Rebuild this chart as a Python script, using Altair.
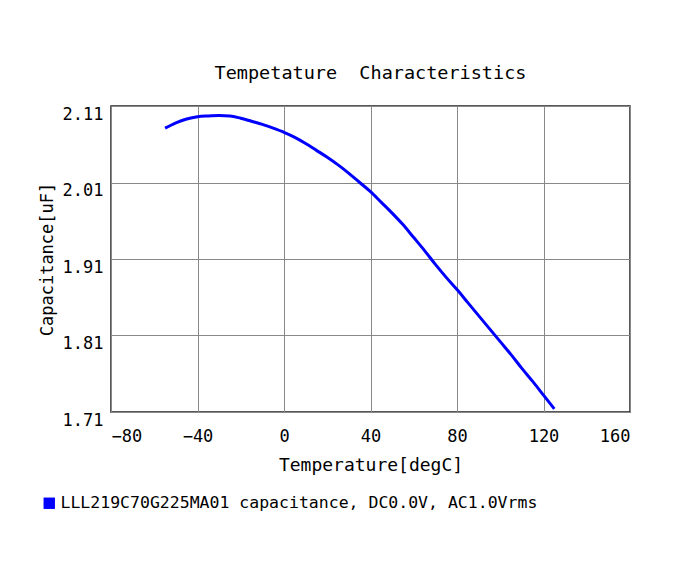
import altair as alt
import pandas as pd

temps = [-55, -50, -45, -40, -35, -30, -25, -20, -15, -10, -5, 0, 5, 10, 15, 20,
         25, 30, 35, 40, 45, 50, 55, 60, 65, 70, 75, 80, 85, 90, 95, 100, 105,
         110, 115, 120, 125]
caps = [2.081, 2.088, 2.093, 2.096, 2.097, 2.0975, 2.097, 2.094, 2.090, 2.086,
        2.081, 2.0755, 2.069, 2.061, 2.052, 2.043, 2.033, 2.022, 2.010, 1.998,
        1.984, 1.970, 1.955, 1.938, 1.921, 1.903, 1.886, 1.870, 1.853, 1.836,
        1.819, 1.802, 1.785, 1.767, 1.750, 1.732, 1.714]
series_name = "LLL219C70G225MA01 capacitance, DC0.0V, AC1.0Vrms"
x_ticks = [-80, -40, 0, 40, 80, 120, 160]
y_ticks = [1.71, 1.81, 1.91, 2.01, 2.11]

df = pd.DataFrame({"t": temps, "c": caps, "s": series_name})

FONT = "DejaVu Sans Mono"

chart = alt.Chart(df).mark_line(strokeWidth=3, clip=True, interpolate="monotone").encode(
    x=alt.X("t:Q", scale=alt.Scale(domain=[-80, 160], nice=False),
            axis=alt.Axis(values=x_ticks, title="Temperature[degC]", format="d",
                          tickSize=0, labelPadding=16, titlePadding=12,
                          labelFont=FONT, titleFont=FONT, titleFontWeight="normal",
                          labelColor="#000", titleColor="#000",
                          gridColor="#888", domain=False,
                          labelFontSize=17, titleFontSize=18)),
    y=alt.Y("c:Q", scale=alt.Scale(domain=[1.71, 2.11], nice=False, zero=False),
            axis=alt.Axis(values=y_ticks, title="Capacitance[uF]", format=".2f",
                          tickSize=0, labelPadding=8, titlePadding=6,
                          labelFont=FONT, titleFont=FONT, titleFontWeight="normal",
                          labelColor="#000", titleColor="#000",
                          gridColor="#888", domain=False,
                          labelBaseline="top", labelFontSize=17, titleFontSize=17)),
    color=alt.Color("s:N", scale=alt.Scale(range=["#0000ff"]),
                    legend=alt.Legend(title=None, orient="none", legendX=-70, legendY=389,
                                      symbolType="square", symbolSize=130,
                                      symbolFillColor="#0000ff", symbolStrokeWidth=0,
                                      labelFontSize=16.5, labelFont=FONT, labelColor="#000",
                                      labelLimit=700, symbolOffset=0, labelOffset=3)),
).properties(
    width=519, height=306,
    background="white",
    title=alt.TitleParams("Tempetature\u00a0\u00a0Characteristics", fontSize=18.5, font=FONT,
                          fontWeight="normal", offset=23, color="#000"),
    autosize=alt.AutoSizeParams(type="none"),
    padding={"left": 103, "top": 98, "right": 40, "bottom": 140},
).configure_view(
    stroke="#222", strokeWidth=1.5,
)

chart.save("out.html", embed_options={"renderer": "svg", "actions": False})
